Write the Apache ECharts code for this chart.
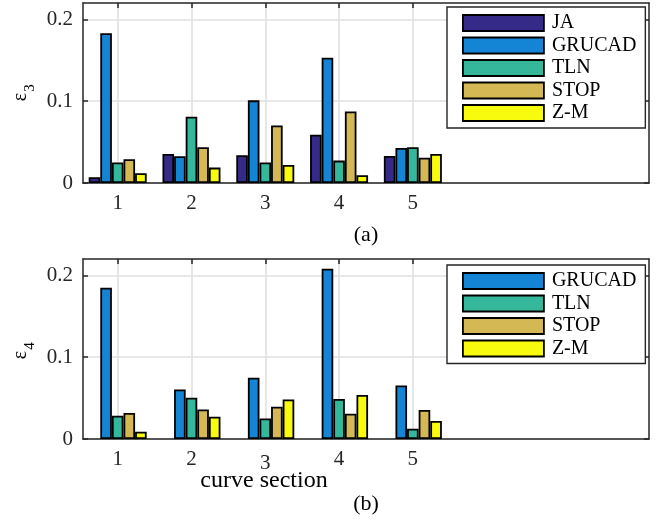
<!DOCTYPE html>
<html>
<head>
<meta charset="utf-8">
<script src="https://cdn.jsdelivr.net/npm/echarts@6/dist/echarts.min.js"></script>
<style>
  html, body { margin: 0; padding: 0; background: #ffffff; }
  #chart { width: 668px; height: 522px; }
</style>
</head>
<body>
<div id="chart"></div>
<script>
// Curve sections on the x axis
const sections = [1, 2, 3, 4, 5];
const yTicks = [0, 0.1, 0.2];

// Method names and colours (parula-like)
const methodNames = ['JA', 'GRUCAD', 'TLN', 'STOP', 'Z-M'];
const methodColors = ['#352a87', '#1484d4', '#35b79c', '#d4b853', '#f9fb0e'];

// epsilon_3 per curve section
const eps3JA     = [0.007, 0.0355, 0.034, 0.059, 0.033];
const eps3GRUCAD = [0.183, 0.0327, 0.101, 0.153, 0.0428];
const eps3TLN    = [0.025, 0.081, 0.025, 0.0274, 0.0437];
const eps3STOP   = [0.029, 0.0437, 0.0702, 0.0874, 0.031];
const eps3ZM     = [0.012, 0.0188, 0.022, 0.0094, 0.0355];

// epsilon_4 per curve section (no JA values)
const eps4JA     = [null, null, null, null, null];
const eps4GRUCAD = [0.185, 0.0606, 0.0748, 0.208, 0.0655];
const eps4TLN    = [0.0285, 0.0504, 0.0252, 0.049, 0.0126];
const eps4STOP   = [0.0317, 0.0362, 0.0394, 0.0309, 0.0354];
const eps4ZM     = [0.0089, 0.0272, 0.0484, 0.0537, 0.022];

const FONT = 'Liberation Serif';
const AXIS_COLOR = '#262626';
const GRID_COLOR = '#e0e0e0';

function pairs(vals) {
  return sections.map((s, i) => [s, vals[i]]);
}

function xAxes(gridIndex, name, nameGap, dropLabel) {
  const common = {
    type: 'value', gridIndex, min: 0.53, max: 8.2,
    axisLine: { show: true, onZero: false, lineStyle: { color: AXIS_COLOR, width: 1.5 } },
    axisTick: { show: true, inside: true, length: 5, customValues: sections,
      lineStyle: { color: AXIS_COLOR, width: 1.5 } }
  };
  return [
    Object.assign({}, common, {
      position: 'bottom',
      axisLabel: {
        show: true, customValues: sections, margin: 10, fontSize: 21,
        fontFamily: FONT, color: AXIS_COLOR,
        // the middle label sits a little lower where the axis title crowds it
        formatter: v => (v === dropLabel ? '{low|' + v + '}' : String(v)),
        rich: { low: { fontSize: 21, fontFamily: FONT, color: AXIS_COLOR, padding: [4, 0, 0, 0] } }
      },
      splitLine: { show: true, lineStyle: { color: GRID_COLOR, width: 1.6 } },
      name, nameLocation: 'middle', nameGap,
      nameTextStyle: { fontSize: 22, fontFamily: FONT, color: '#000' }
    }),
    Object.assign({}, common, {
      position: 'top',
      axisLabel: { show: false },
      splitLine: { show: false }
    })
  ];
}

function yAxes(gridIndex) {
  const common = {
    type: 'value', gridIndex, min: 0, max: 0.22,
    axisLine: { show: true, lineStyle: { color: AXIS_COLOR, width: 1.5 } },
    axisTick: { show: true, inside: true, length: 5, customValues: yTicks,
      lineStyle: { color: AXIS_COLOR, width: 1.5 } }
  };
  return [
    Object.assign({}, common, {
      position: 'left',
      axisLabel: { show: true, customValues: yTicks, margin: 10, fontSize: 21,
        fontFamily: FONT, color: AXIS_COLOR,
        formatter: v => (v === 0 ? '0' : String(+v.toFixed(2))) },
      splitLine: { show: true, lineStyle: { color: GRID_COLOR, width: 1.6 } }
    }),
    Object.assign({}, common, {
      position: 'right',
      axisLabel: { show: false },
      splitLine: { show: false }
    })
  ];
}

function barSeries(name, idx, vals, axisIndex) {
  return {
    type: 'bar', name,
    xAxisIndex: axisIndex, yAxisIndex: axisIndex,
    data: pairs(vals),
    barWidth: 11.6, barGap: '0%',
    itemStyle: { color: methodColors[idx], borderColor: '#000', borderWidth: 1.8 },
    emphasis: { disabled: true },
    animation: false
  };
}

function legend(names, top) {
  return {
    orient: 'vertical', left: 447, top,
    data: names, selectedMode: false, icon: 'rect',
    itemWidth: 81, itemHeight: 16, itemGap: 2.5,
    padding: [6, 9, 5, 15],
    backgroundColor: '#ffffff', borderColor: AXIS_COLOR, borderWidth: 1.4,
    itemStyle: { borderColor: '#000', borderWidth: 1.8 },
    textStyle: { fontSize: 20, lineHeight: 16, fontFamily: FONT, color: '#000',
      padding: [0, 0, 0, 3] },
    z: 10
  };
}

const chart = echarts.init(document.getElementById('chart'), null, { renderer: 'canvas' });

chart.setOption({
  animation: false,
  grid: [
    { left: 83, top: 3, width: 566, height: 180 },
    { left: 83, top: 259, width: 566, height: 180 }
  ],
  xAxis: [].concat(xAxes(0, '(a)', 41, null), xAxes(1, '(b)', 54, 3)),
  yAxis: [].concat(yAxes(0), yAxes(1)),
  legend: [
    legend(methodNames, 7),
    legend(methodNames.slice(1), 265)
  ],
  graphic: [
    { type: 'text', x: 21, y: 97, rotation: Math.PI / 2,
      style: { text: 'ε', font: '20px "Liberation Serif"', fill: '#000',
        align: 'center', verticalAlign: 'middle' } },
    { type: 'text', x: 30, y: 88, rotation: Math.PI / 2,
      style: { text: '3', font: '15px "Liberation Serif"', fill: '#000',
        align: 'center', verticalAlign: 'middle' } },
    { type: 'text', x: 21, y: 355, rotation: Math.PI / 2,
      style: { text: 'ε', font: '20px "Liberation Serif"', fill: '#000',
        align: 'center', verticalAlign: 'middle' } },
    { type: 'text', x: 30, y: 346, rotation: Math.PI / 2,
      style: { text: '4', font: '15px "Liberation Serif"', fill: '#000',
        align: 'center', verticalAlign: 'middle' } },
    { type: 'text', x: 264, y: 481,
      style: { text: 'curve section', font: '24px "Liberation Serif"', fill: '#000',
        align: 'center', verticalAlign: 'middle' } }
  ],
  series: [
    barSeries('JA', 0, eps3JA, 0),
    barSeries('GRUCAD', 1, eps3GRUCAD, 0),
    barSeries('TLN', 2, eps3TLN, 0),
    barSeries('STOP', 3, eps3STOP, 0),
    barSeries('Z-M', 4, eps3ZM, 0),
    barSeries('JA', 0, eps4JA, 2),
    barSeries('GRUCAD', 1, eps4GRUCAD, 2),
    barSeries('TLN', 2, eps4TLN, 2),
    barSeries('STOP', 3, eps4STOP, 2),
    barSeries('Z-M', 4, eps4ZM, 2)
  ]
});
</script>
</body>
</html>
